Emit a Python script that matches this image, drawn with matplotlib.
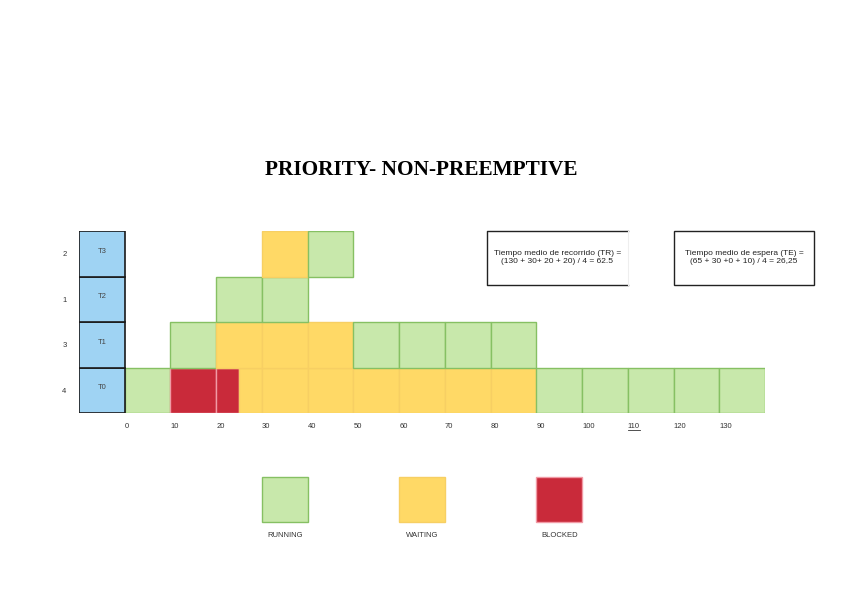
import matplotlib.pyplot as plt
from matplotlib.patches import Rectangle
from matplotlib.lines import Line2D

# scheduling data (time units), one list of cells per task
tasks = ["T0", "T1", "T2", "T3"]
priorities = ["4", "3", "1", "2"]

t0_cells = [(0, 10, "RUNNING"), (10, 20, "BLOCKED"), (20, 25, "BLOCKED"),
            (25, 30, "WAITING"), (30, 40, "WAITING"), (40, 50, "WAITING"),
            (50, 60, "WAITING"), (60, 70, "WAITING"), (70, 80, "WAITING"),
            (80, 90, "WAITING"), (90, 100, "RUNNING"), (100, 110, "RUNNING"),
            (110, 120, "RUNNING"), (120, 130, "RUNNING"), (130, 140, "RUNNING")]
t1_cells = [(10, 20, "RUNNING"), (20, 30, "WAITING"), (30, 40, "WAITING"),
            (40, 50, "WAITING"), (50, 60, "RUNNING"), (60, 70, "RUNNING"),
            (70, 80, "RUNNING"), (80, 90, "RUNNING")]
t2_cells = [(20, 30, "RUNNING"), (30, 40, "RUNNING")]
t3_cells = [(30, 40, "WAITING"), (40, 50, "RUNNING")]

time_ticks = [0, 10, 20, 30, 40, 50, 60, 70, 80, 90, 100, 110, 120, 130]
legend_states = ["RUNNING", "WAITING", "BLOCKED"]
legend_pos = [30, 60, 90]

tr_text = "Tiempo medio de recorrido (TR) =\n(130 + 30+ 20 + 20) / 4 = 62.5"
te_text = "Tiempo medio de espera (TE) =\n(65 + 30 +0 + 10) / 4 = 26,25"

fill = {"RUNNING": "#c8e8ab", "WAITING": "#ffd966", "BLOCKED": "#c92a3a"}
edge = {"RUNNING": "#86c063", "WAITING": "#f7cf63", "BLOCKED": "#f19aa5"}

plt.rcParams['font.family'] = ['Liberation Sans', 'DejaVu Sans']

fig = plt.figure(figsize=(8.48, 5.99), dpi=100)
ax = fig.add_axes([79 / 848, 186 / 599, 686 / 848, 182 / 599])
ax.set_xlim(-10, 140)
ax.set_ylim(0, 4)

for row, cells in enumerate([t0_cells, t1_cells, t2_cells, t3_cells]):
    for start, end, state in cells:
        ax.barh(row + 0.5, end - start, left=start, height=1,
                color=fill[state], edgecolor=edge[state], linewidth=1.0)

# task label column
for row, name in enumerate(tasks):
    ax.barh(row + 0.5, 10, left=-10, height=1, color="#9fd3f3",
            edgecolor="#1a1a1a", linewidth=1.2)
    ax.text(-5, row + 0.55, name, ha="center", va="center", fontsize=5.5,
            color="#444444")

for s in ax.spines.values():
    s.set_visible(False)
ax.set_yticks([r + 0.5 for r in range(len(tasks))])
ax.set_yticklabels(priorities, fontsize=5.5, color="#333333")
ax.set_xticks(time_ticks)
ax.set_xticklabels([str(t) for t in time_ticks], fontsize=5.5, color="#333333")
for lab in ax.get_xticklabels():
    lab.set_horizontalalignment("left")
ax.tick_params(axis="both", length=0)
ax.tick_params(axis="y", pad=9)
ax.tick_params(axis="x", pad=7)

# underline under the 110 tick label
ax.add_line(Line2D([110.1, 112.7], [-0.37, -0.37], color="#333333",
                   linewidth=0.6, clip_on=False))

# legend squares
for state, x in zip(legend_states, legend_pos):
    ax.add_patch(Rectangle((x, -2.4), 10, 1, facecolor=fill[state],
                           edgecolor=edge[state], linewidth=1.0, clip_on=False))
    ax.text(x + 5, -2.7, state, ha="center", va="center", fontsize=5.5,
            color="#333333", clip_on=False)

# averages boxes (the first one has no visible right edge)
ax.add_patch(Rectangle((79.2, 2.81), 30.8, 1.19, facecolor="white",
                       edgecolor="none", clip_on=False))
ax.add_line(Line2D([110, 79.2, 79.2, 110], [4.0, 4.0, 2.81, 2.81],
                   color="#222222", linewidth=1.0, clip_on=False))
ax.add_line(Line2D([110, 110], [2.81, 4.0], color="#eeeeee", linewidth=0.8,
                   clip_on=False))
ax.text(94.6, 3.42, tr_text, ha="center", va="center", fontsize=6.0,
        color="#222222", linespacing=1.25)
ax.add_patch(Rectangle((120, 2.81), 30.8, 1.19, facecolor="white",
                       edgecolor="#222222", linewidth=1.0, clip_on=False))
ax.text(135.4, 3.42, te_text, ha="center", va="center", fontsize=6.0,
        color="#222222", linespacing=1.25, clip_on=False)

fig.text(421 / 848, 1 - 170 / 599, "PRIORITY- NON-PREEMPTIVE", ha="center",
         va="center", fontsize=15.3, fontweight="bold",
         family=["Liberation Serif", "DejaVu Serif"])

fig.savefig("out.png", dpi=100)
